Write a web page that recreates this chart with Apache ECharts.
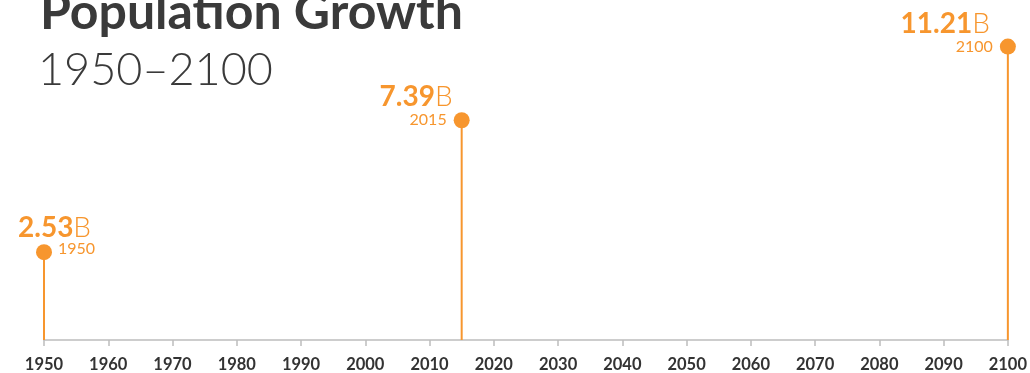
<!DOCTYPE html>
<html><head><meta charset="utf-8">
<script src="https://cdn.jsdelivr.net/npm/echarts@6/dist/echarts.min.js"></script>
<style>html,body{margin:0;padding:0;background:#fff}#c{width:1030px;height:373px}</style>
</head><body><div id="c"></div>
<script>
// ---- data ----
const years = [1950, 2015, 2100];
const populations = [2.53, 7.39, 11.21];   // billions
const yearLabels = ['1950', '2015', '2100'];
const xMin = 1950, xMax = 2100, xStep = 10;
const titleText = 'Population Growth';
const subtitleText = '1950–2100';

// ---- styles ----
const ORANGE = '#f7962e';
const DARK = '#3a3a3a';
const FONT = 'Lato, "Open Sans", sans-serif';

// vertical scale is a square-root scale (as in the reference)
const sq = v => Math.sqrt(v);
const pts = years.map((y, i) => [y, sq(populations[i])]);

// label placement: first point labels go to the right, others to the left
function numLabel(i) {
  const right = i === 0;
  return {
    show: true, position: 'inside', opacity: 1,
    align: right ? 'left' : 'right', verticalAlign: 'middle',
    offset: right ? [-26, -24] : (i === 1 ? [-9, -23] : [-18, -23]),
    formatter: () => '{n|' + populations[i].toFixed(2) + '}{u|B}',
    rich: {
      n: { fontFamily: FONT, fontWeight: 'bold', fontSize: 28, color: ORANGE, opacity: 1 },
      u: { fontFamily: FONT, fontWeight: 300, fontSize: 28, color: ORANGE, opacity: 1 }
    }
  };
}
function yearLabel(i) {
  const right = i === 0;
  return {
    show: true, position: 'inside', opacity: 1,
    align: right ? 'left' : 'right', verticalAlign: 'middle',
    offset: right ? [14, -3] : [-15, 0],
    formatter: () => yearLabels[i],
    fontFamily: FONT, fontWeight: 'normal', fontSize: 16, color: ORANGE
  };
}

const chart = echarts.init(document.getElementById('c'), null, { renderer: 'canvas' });
chart.setOption({
  animation: false,
  backgroundColor: '#fff',
  grid: { left: 44, right: 21, top: 0, bottom: 33, containLabel: false },
  graphic: [
    { type: 'text', x: 40, y: 13, style: { text: titleText, fill: DARK,
      font: 'bold 50px ' + FONT, textVerticalAlign: 'middle', verticalAlign: 'middle' } },
    { type: 'text', x: 38, y: 70, style: { text: subtitleText, fill: DARK,
      font: '300 45px ' + FONT, textVerticalAlign: 'middle', verticalAlign: 'middle' } }
  ],
  xAxis: {
    type: 'value', min: xMin, max: xMax, interval: xStep,
    axisLine: { show: true, lineStyle: { color: '#bdbdbd', width: 1.5 } },
    axisTick: { show: true, length: 6, lineStyle: { color: '#bdbdbd', width: 1.5 } },
    splitLine: { show: false },
    axisLabel: { fontFamily: FONT, fontWeight: 'bold', fontSize: 16.5, color: '#333',
      margin: 16, formatter: v => String(v) }
  },
  yAxis: {
    type: 'value', min: 0.84, max: 3.746, show: false, splitLine: { show: false }
  },
  series: [
    { type: 'bar', data: pts, barWidth: 2, itemStyle: { color: ORANGE }, silent: true, z: 2 },
    { type: 'scatter', data: pts.map((p, i) => ({ value: p, label: yearLabel(i) })),
      symbolSize: 16, itemStyle: { color: ORANGE, opacity: 1 }, z: 3 },
    { type: 'scatter', data: pts.map((p, i) => ({ value: p, label: numLabel(i) })),
      symbolSize: 2, itemStyle: { color: ORANGE, opacity: 0 }, z: 4 }
  ]
});
</script>
</body></html>
